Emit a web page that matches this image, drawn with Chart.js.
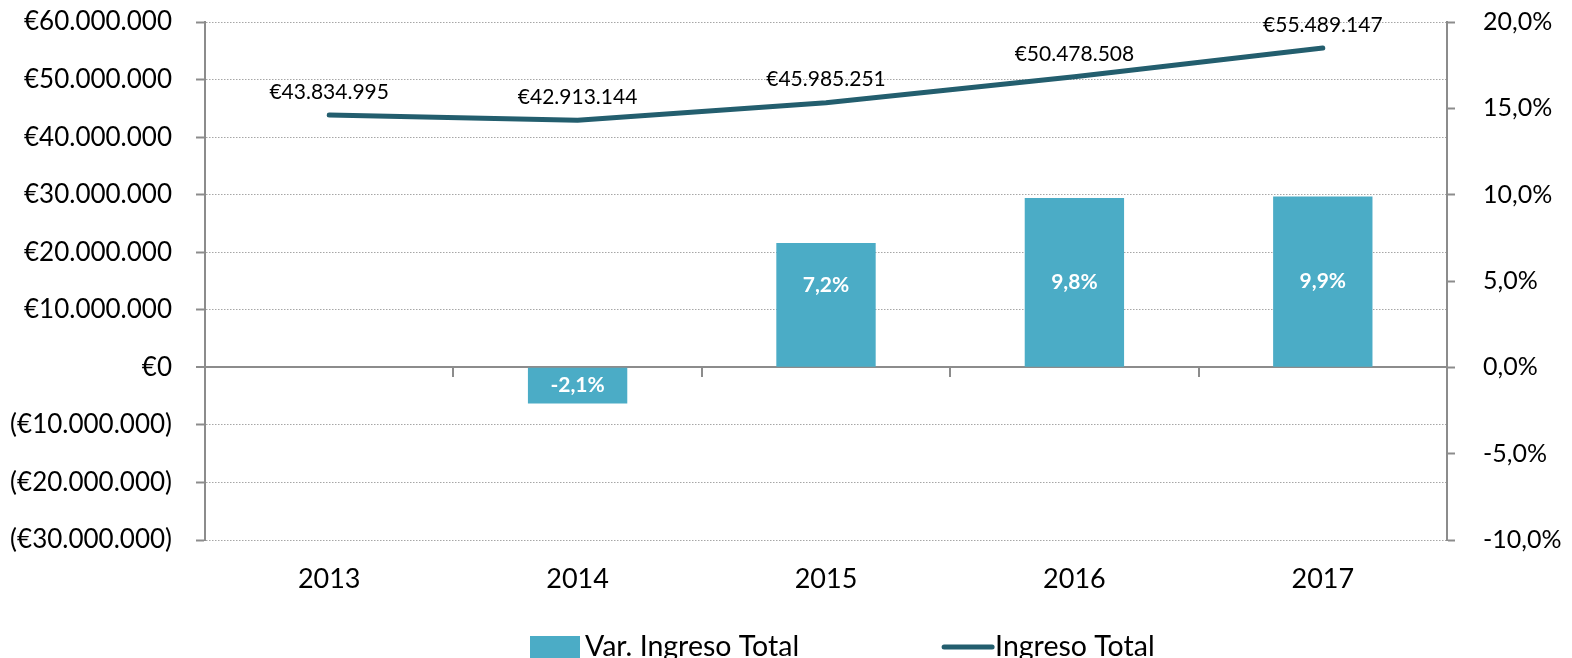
<!DOCTYPE html>
<html lang="es">
<head>
<meta charset="UTF-8">
<title>Ingreso Total</title>
<script src="https://cdn.jsdelivr.net/npm/chart.js"></script>
<style>
  html, body { margin: 0; padding: 0; background: #fff; overflow: hidden; }
  #wrap { width: 1572px; height: 658px; }
</style>
</head>
<body>
<div id="wrap"><canvas id="ingresoChart" width="1572" height="658"></canvas></div>
<script>
// data
const years = ['2013', '2014', '2015', '2016', '2017'];
const ingresoTotal = [43834995, 42913144, 45985251, 50478508, 55489147];
const varIngreso = [null, -2.1, 7.2, 9.8, 9.9];
const seriesNames = ['Var. Ingreso Total', 'Ingreso Total'];

const barColor = '#4BACC6';
const lineColor = '#235E6E';
const axisGray = '#8C8C8C';
const gridGray = '#A6A6A6';
const FONT = 'Lato';

function euro(v) {
  const s = '€' + Math.abs(v).toLocaleString('de-DE');
  return v < 0 ? '(' + s + ')' : s;
}
function pct(v) {
  return v.toFixed(1).replace('.', ',') + '%';
}

// value labels on the line points and inside the bars
const valueLabels = {
  id: 'valueLabels',
  afterDatasetsDraw(chart) {
    const ctx = chart.ctx;
    ctx.save();
    ctx.textAlign = 'center';
    ctx.textBaseline = 'middle';

    ctx.font = '21px ' + FONT;
    ctx.fillStyle = '#000';
    chart.getDatasetMeta(1).data.forEach((pt, i) => {
      ctx.fillText(euro(ingresoTotal[i]), pt.x, pt.y - 23);
    });

    ctx.font = 'bold 21px ' + FONT;
    ctx.fillStyle = '#fff';
    chart.getDatasetMeta(0).data.forEach((bar, i) => {
      const v = varIngreso[i];
      if (v === null) return;
      let y = (bar.y + bar.base) / 2;
      if (v > 0) y = Math.min(y, bar.base - 82);
      ctx.fillText(pct(v), bar.x, y);
    });
    ctx.restore();
  }
};

// legend along the bottom edge
const bottomLegend = {
  id: 'bottomLegend',
  afterDraw(chart) {
    const ctx = chart.ctx;
    const y = 647;
    ctx.save();
    ctx.font = '28.5px ' + FONT;
    ctx.textBaseline = 'middle';

    let x = 530;
    ctx.fillStyle = barColor;
    ctx.fillRect(x, y - 11, 50, 22);
    ctx.fillStyle = '#000';
    ctx.fillText(seriesNames[0], x + 55, y);
    x += 55 + ctx.measureText(seriesNames[0]).width + 143;

    ctx.strokeStyle = lineColor;
    ctx.lineWidth = 5;
    ctx.lineCap = 'round';
    ctx.beginPath();
    ctx.moveTo(x + 2, y);
    ctx.lineTo(x + 50, y);
    ctx.stroke();
    ctx.fillText(seriesNames[1], x + 53, y);
    ctx.restore();
  }
};

function fixY(width) {
  return s => {
    s.width = width;
    s.paddingTop = 0;
    s.paddingBottom = 0;
  };
}

new Chart(document.getElementById('ingresoChart'), {
  type: 'bar',
  data: {
    labels: years,
    datasets: [
      {
        label: seriesNames[0],
        data: varIngreso,
        yAxisID: 'y1',
        xAxisID: 'x',
        backgroundColor: barColor,
        barPercentage: 0.4,
        categoryPercentage: 1.0,
        order: 2
      },
      {
        type: 'line',
        label: seriesNames[1],
        data: ingresoTotal,
        yAxisID: 'y',
        xAxisID: 'x',
        borderColor: lineColor,
        borderWidth: 5,
        borderCapStyle: 'round',
        pointRadius: 0,
        tension: 0,
        order: 1
      }
    ]
  },
  options: {
    responsive: false,
    animation: false,
    events: [],
    layout: { padding: { top: 22, left: 0, right: 0, bottom: 0 } },
    plugins: { legend: { display: false }, tooltip: { enabled: false } },
    scales: {
      x: {
        type: 'category',
        position: 'bottom',
        offset: true,
        grid: { display: false, drawTicks: false },
        border: { display: false },
        ticks: { color: '#000', font: { family: FONT, size: 27 }, padding: 23 },
        afterFit(s) { s.height = 118; }
      },
      xZero: {
        type: 'category',
        position: { y: 0 },
        offset: true,
        grid: { display: true, offset: true, drawOnChartArea: false, drawTicks: true, tickLength: 9, color: axisGray, lineWidth: 2 },
        border: { display: true, color: axisGray, width: 2 },
        ticks: { display: false }
      },
      y: {
        position: 'left',
        min: -30000000,
        max: 60000000,
        ticks: {
          stepSize: 10000000,
          color: '#000',
          font: { family: FONT, size: 26 },
          padding: 24,
          callback: v => euro(v)
        },
        grid: {
          color: c => (c.tick && c.tick.value === 0) ? axisGray : gridGray,
          lineWidth: c => (c.tick && c.tick.value === 0) ? 2 : 1,
          tickColor: axisGray,
          tickWidth: 2,
          tickLength: 9
        },
        border: {
          display: true,
          color: axisGray,
          width: 2,
          dash: c => (c.tick && c.tick.value === 0) ? [] : [1.5, 1.5]
        },
        afterFit: fixY(205)
      },
      y1: {
        position: 'right',
        min: -10,
        max: 20,
        ticks: {
          stepSize: 5,
          color: '#000',
          font: { family: FONT, size: 25 },
          padding: 28,
          callback: v => pct(v)
        },
        grid: { drawOnChartArea: false, color: axisGray, tickWidth: 2, tickLength: 8 },
        border: { display: true, color: axisGray, width: 2 },
        afterFit: fixY(125)
      }
    }
  },
  plugins: [valueLabels, bottomLegend]
});
</script>
</body>
</html>
